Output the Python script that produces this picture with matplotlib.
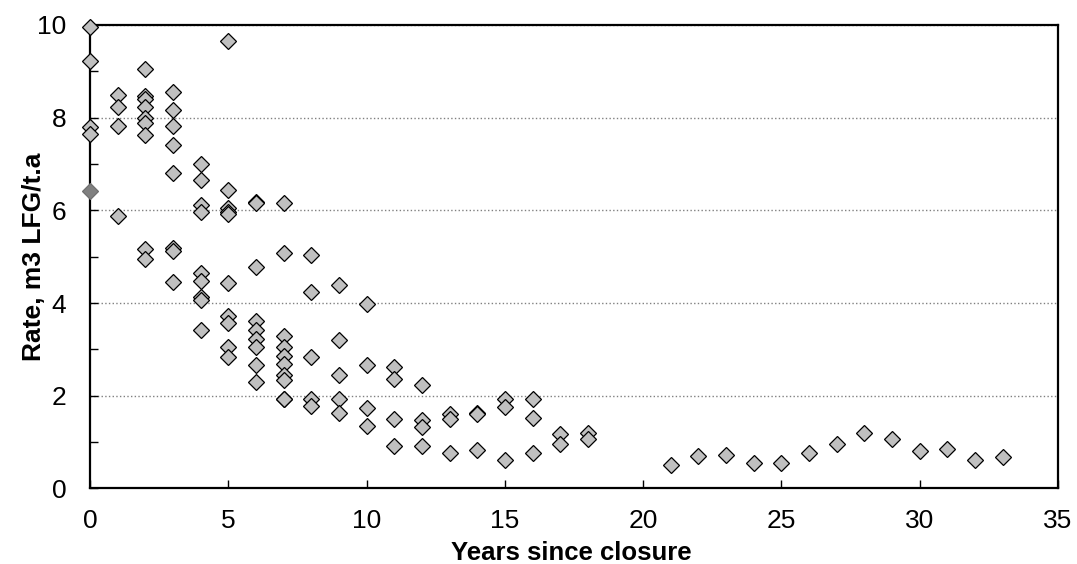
import numpy as np
import matplotlib.pyplot as plt
from matplotlib.ticker import MultipleLocator

# measured gas production rates per year since closure
years = [0, 0, 0, 0,
         1, 1, 1, 1,
         2, 2, 2, 2, 2, 2, 2, 2, 2,
         3, 3, 3, 3, 3, 3, 3, 3,
         4, 4, 4, 4, 4, 4, 4, 4, 4,
         5, 5, 5, 5, 5, 5, 5, 5, 5, 5,
         6, 6, 6, 6, 6, 6, 6, 6, 6,
         7, 7, 7, 7, 7, 7, 7, 7, 7, 7,
         8, 8, 8, 8, 8,
         9, 9, 9, 9, 9,
         10, 10, 10, 10,
         11, 11, 11, 11,
         12, 12, 12, 12,
         13, 13, 13,
         14, 14, 14,
         15, 15, 15,
         16, 16, 16,
         17, 17,
         18, 18,
         21, 22, 23, 24, 25, 26, 27, 28, 29, 30, 31, 32, 33]
rates = [9.96, 9.22, 7.80, 7.65,
         8.49, 8.24, 7.82, 5.88,
         9.05, 8.47, 8.40, 8.24, 7.99, 7.88, 7.63, 5.17, 4.95,
         8.56, 8.16, 7.83, 7.40, 6.81, 5.19, 5.12, 4.45,
         6.99, 6.65, 6.11, 5.97, 4.65, 4.47, 4.13, 4.07, 3.43,
         9.65, 6.43, 6.05, 5.97, 5.93, 4.43, 3.72, 3.56, 3.05, 2.83,
         6.19, 6.15, 4.78, 3.62, 3.42, 3.22, 3.05, 2.67, 2.29,
         6.15, 5.07, 3.30, 3.05, 2.85, 2.68, 2.45, 2.33, 1.92, 1.92,
         5.03, 4.24, 2.83, 1.92, 1.79,
         4.40, 3.20, 2.44, 1.94, 1.62,
         3.99, 2.67, 1.74, 1.35,
         2.63, 2.36, 1.49, 0.92,
         2.23, 1.48, 1.33, 0.92,
         1.60, 1.50, 0.77,
         1.63, 1.60, 0.82,
         1.93, 1.75, 0.62,
         1.94, 1.52, 0.77,
         1.17, 0.95,
         1.20, 1.07,
         0.50, 0.69, 0.73, 0.56, 0.55, 0.77, 0.97, 1.19, 1.06, 0.81, 0.86, 0.62, 0.68]

# single point drawn darker in the original
dark_years = [0]
dark_rates = [6.42]

plt.rcParams['font.family'] = ['Liberation Sans', 'DejaVu Sans']

fig = plt.figure(figsize=(10.77, 5.64), dpi=100)
ax = fig.add_axes([0.0836, 0.1339, 0.8988, 0.8218])

ax.plot(years, rates, linestyle='none', marker='D', markersize=8,
        markerfacecolor='#c0c0c0', markeredgecolor='black', markeredgewidth=0.9,
        clip_on=False, zorder=3)
ax.plot(dark_years, dark_rates, linestyle='none', marker='D', markersize=8,
        markerfacecolor='#808080', markeredgecolor='#707070', markeredgewidth=0.9,
        clip_on=False, zorder=3)

ax.set_xlim(0, 35)
ax.set_ylim(0, 10)
ax.xaxis.set_major_locator(MultipleLocator(5))
ax.yaxis.set_major_locator(MultipleLocator(2))
ax.yaxis.set_minor_locator(MultipleLocator(1))
ax.tick_params(axis='both', which='both', direction='in', labelsize=19, width=1)
ax.tick_params(axis='x', which='major', length=5.5, pad=15)
ax.tick_params(axis='y', which='both', length=5.5, pad=17)

ax.grid(axis='y', which='major', linestyle=':', color='#808080', linewidth=1)
ax.set_axisbelow(True)

for side in ['left', 'bottom', 'top', 'right']:
    ax.spines[side].set_linewidth(1.6)

ax.set_xlabel('Years since closure', fontsize=18.5, fontweight='bold')
ax.set_ylabel('Rate, m3 LFG/t.a', fontsize=19, fontweight='bold')
ax.xaxis.set_label_coords(0.497, -0.113)
ax.yaxis.set_label_coords(-0.046, 0.5)

plt.savefig('out.png', dpi=100)
plt.close()
